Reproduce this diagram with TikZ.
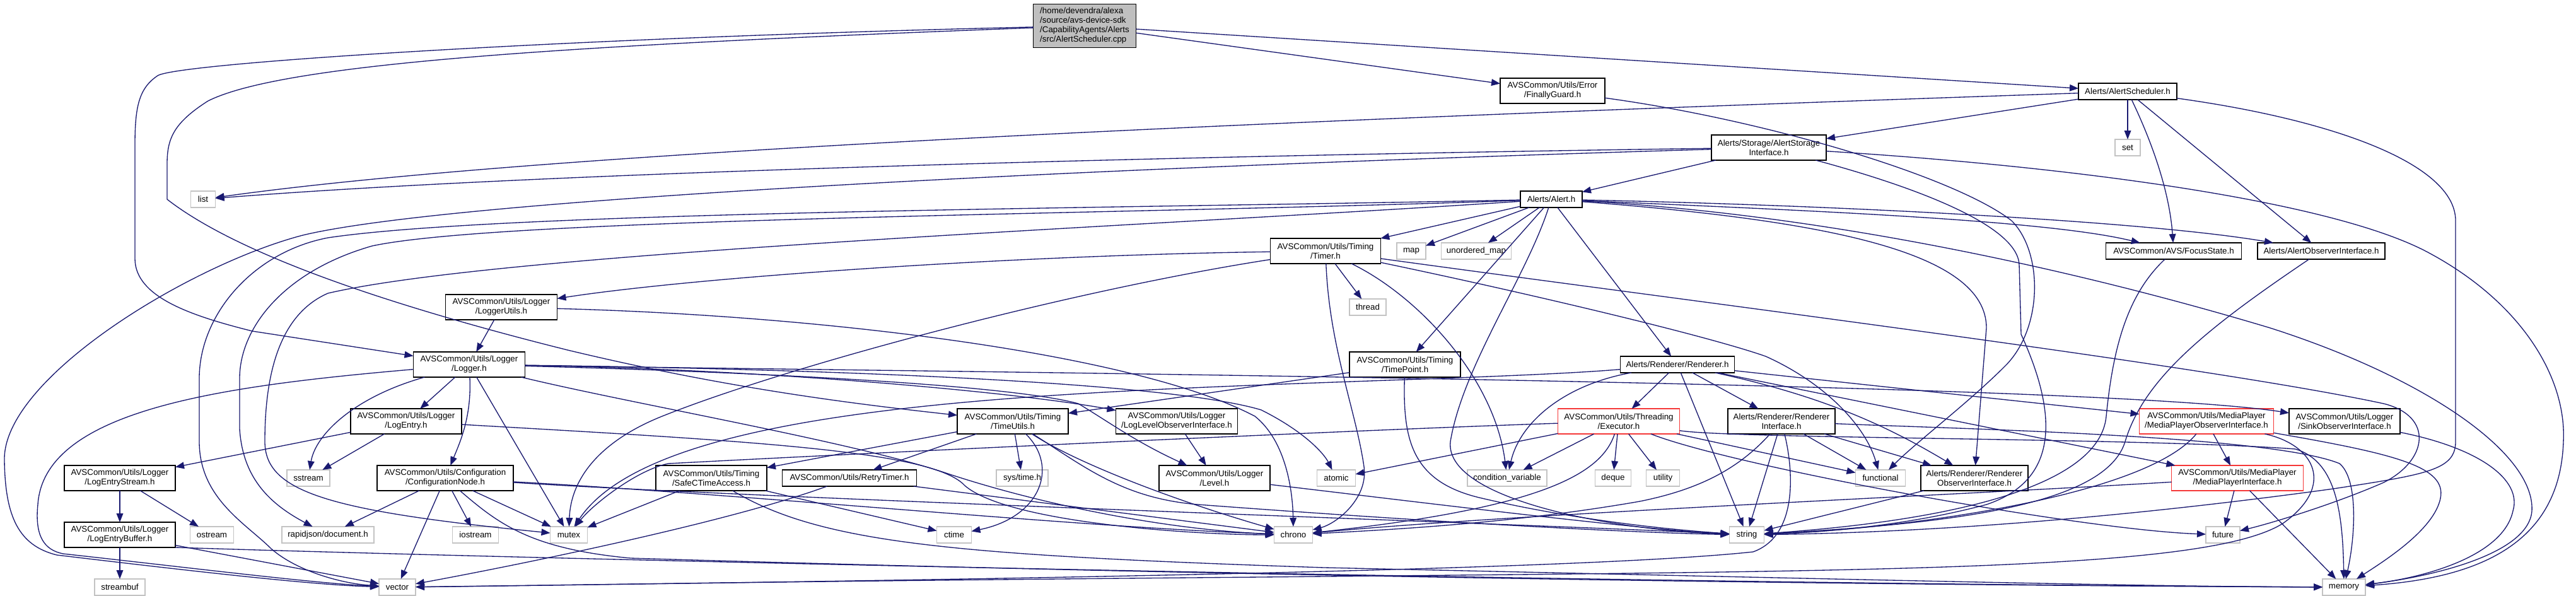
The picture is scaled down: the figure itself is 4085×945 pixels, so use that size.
\documentclass[tikz,border=0pt]{standalone}
\usepackage{fontspec}
\setmainfont{Liberation Sans}
\usetikzlibrary{arrows.meta}
\definecolor{eblue}{RGB}{25,25,112}
\definecolor{lgray}{RGB}{195,195,195}
\definecolor{rgray}{RGB}{191,191,191}
\definecolor{redb}{RGB}{245,55,55}
\newcommand{\nodefont}{\fontsize{10}{11.25}\selectfont}
\tikzset{
  base/.style={inner sep=0pt, outer sep=0pt, fill=white, line width=1pt, align=center, font=\nodefont},
  hdr/.style={base, draw=black},
  sysh/.style={base, draw=lgray},
  redh/.style={base, draw=redb},
  two/.style={minimum height=30pt},
  one/.style={minimum height=19.5pt},
  bw/.style={minimum width=#1},
  e/.style={draw=eblue, line width=1pt, -{Triangle[length=10.5pt,width=8pt]}},
}
\begin{document}
\begin{tikzpicture}[x=0.75pt,y=-0.75pt]
\useasboundingbox[fill=white] (0,0) rectangle (4085,945);
% ---------- nodes ----------
\node[hdr, fill=rgray, align=left, bw=122.25pt, minimum height=51.75pt] (cpp) at (1720,41) {/home/devendra/alexa\\/source/avs-device-sdk\\/CapabilityAgents/Alerts\\/src/AlertScheduler.cpp};
\node[hdr, one, bw=117pt] (asch) at (3374,145) {Alerts/AlertScheduler.h};
\node[hdr, two, bw=124.5pt] (fguard) at (2462,144) {AVSCommon/Utils/Error\\/FinallyGuard.h};
\node[hdr, two, bw=136.5pt] (astore) at (2805,234) {Alerts/Storage/AlertStorage\\Interface.h};
\node[sysh, one, bw=30pt] (set) at (3374,234) {set};
\node[sysh, one, bw=29.25pt] (list) at (322,316) {list};
\node[hdr, one, bw=73.5pt] (alert) at (2460,316) {Alerts/Alert.h};
\node[hdr, two, bw=131.25pt] (timer) at (2102,398) {AVSCommon/Utils/Timing\\/Timer.h};
\node[sysh, one, bw=34.5pt] (map) at (2238,398) {map};
\node[sysh, one, bw=83.25pt] (umap) at (2341,398) {unordered\_map};
\node[hdr, one, bw=161.25pt] (focus) at (3447,398) {AVSCommon/AVS/FocusState.h};
\node[hdr, one, bw=151.5pt] (aobs) at (3681,398) {Alerts/AlertObserverInterface.h};
\node[hdr, two, bw=132.75pt] (lutils) at (795,487) {AVSCommon/Utils/Logger\\/LoggerUtils.h};
\node[sysh, one, bw=43.5pt] (thread) at (2169,487) {thread};
\node[hdr, two, bw=132.75pt] (logger) at (744,578) {AVSCommon/Utils/Logger\\/Logger.h};
\node[hdr, two, bw=132pt] (tpoint) at (2228,578) {AVSCommon/Utils/Timing\\/TimePoint.h};
\node[hdr, one, bw=135.75pt] (renderer) at (2660,578) {Alerts/Renderer/Renderer.h};
\node[hdr, two, bw=132pt] (logentry) at (644,668) {AVSCommon/Utils/Logger\\/LogEntry.h};
\node[hdr, two, bw=132pt] (tutils) at (1606,668) {AVSCommon/Utils/Timing\\/TimeUtils.h};
\node[hdr, two, bw=144.75pt] (lloi) at (1866,668) {AVSCommon/Utils/Logger\\/LogLevelObserverInterface.h};
\node[redh, two, bw=144.75pt] (executor) at (2567,668) {AVSCommon/Utils/Threading\\/Executor.h};
\node[hdr, two, bw=127.5pt] (rendiface) at (2825,668) {Alerts/Renderer/Renderer\\Interface.h};
\node[redh, two, bw=159.75pt] (mpobs) at (3499,668) {AVSCommon/Utils/MediaPlayer\\/MediaPlayerObserverInterface.h};
\node[hdr, two, bw=132pt] (sinkobs) at (3718,668) {AVSCommon/Utils/Logger\\/SinkObserverInterface.h};
\node[hdr, two, bw=132pt] (lestream) at (190,758) {AVSCommon/Utils/Logger\\/LogEntryStream.h};
\node[sysh, one, bw=51pt] (sstream) at (489,758) {sstream};
\node[hdr, two, bw=162pt] (confignode) at (706,758) {AVSCommon/Utils/Configuration\\/ConfigurationNode.h};
\node[hdr, two, bw=132pt] (safect) at (1128,758) {AVSCommon/Utils/Timing\\/SafeCTimeAccess.h};
\node[hdr, one, bw=159.75pt] (retry) at (1347,758) {AVSCommon/Utils/RetryTimer.h};
\node[sysh, one, bw=61.5pt] (systime) at (1621,758) {sys/time.h};
\node[hdr, two, bw=132pt] (level) at (1926,758) {AVSCommon/Utils/Logger\\/Level.h};
\node[sysh, one, bw=45.75pt] (atomic) at (2119,758) {atomic};
\node[sysh, one, bw=94.5pt] (condvar) at (2390,758) {condition\_variable};
\node[sysh, one, bw=42.75pt] (deque) at (2558,758) {deque};
\node[sysh, one, bw=39.75pt] (utility) at (2637,758) {utility};
\node[sysh, one, bw=59.25pt] (functional) at (2982,758) {functional};
\node[hdr, two, bw=127.5pt] (rendobs) at (3131,758) {Alerts/Renderer/Renderer\\ObserverInterface.h};
\node[redh, two, bw=156.75pt] (mpiface) at (3548,758) {AVSCommon/Utils/MediaPlayer\\/MediaPlayerInterface.h};
\node[hdr, two, bw=132pt] (lebuffer) at (190,848) {AVSCommon/Utils/Logger\\/LogEntryBuffer.h};
\node[sysh, one, bw=51.75pt] (ostream) at (336,848) {ostream};
\node[sysh, one, bw=109.5pt] (rapidjson) at (520,848) {rapidjson/document.h};
\node[sysh, one, bw=54.75pt] (iostream) at (754,848) {iostream};
\node[sysh, one, bw=44.25pt] (mutex) at (902,848) {mutex};
\node[sysh, one, bw=41.25pt] (ctime) at (1513,848) {ctime};
\node[sysh, one, bw=45.75pt] (chrono) at (2051,848) {chrono};
\node[sysh, one, bw=41.25pt] (string) at (2770,848) {string};
\node[sysh, one, bw=40.5pt] (future) at (3525,848) {future};
\node[sysh, one, bw=60pt] (streambuf) at (190,931) {streambuf};
\node[sysh, one, bw=43.5pt] (vector) at (630,931) {vector};
\node[sysh, one, bw=51pt] (memory) at (3717,931) {memory};
% ---------- edges ----------
% root
\draw[e] (cpp) -- (asch);
\draw[e] (cpp) -- (fguard);
\draw[e] (cpp) .. controls (900,60) and (280,100) .. (250,120) .. controls (220,140) and (214,170) .. (214,230) -- (214,410) .. controls (214,470) and (300,500) .. (400,525) -- (logger);
\draw[e] (cpp) .. controls (900,72) and (450,100) .. (330,160) .. controls (275,195) and (265,220) .. (265,260) -- (265,316) .. controls (360,390) and (560,470) .. (900,555) .. controls (1150,615) and (1350,640) .. (tutils);
% AlertScheduler
\draw[e] (asch) .. controls (2200,185) and (900,235) .. (list);
\draw[e] (asch) -- (astore);
\draw[e] (asch) -- (set);
\draw[e] (asch) .. controls (3410,220) and (3440,300) .. (focus);
\draw[e] (asch) -- (aobs);
\draw[e] (asch) .. controls (3700,190) and (3894,260) .. (3894,350) -- (3894,700) .. controls (3894,745) and (3850,752) .. (3700,775) .. controls (3300,830) and (3000,845) .. (string);
% FinallyGuard
\draw[e] (fguard) .. controls (2800,190) and (3100,280) .. (3190,350) .. controls (3240,400) and (3240,520) .. (3180,580) .. controls (3120,640) and (3040,700) .. (functional);
% AlertStorage
\draw[e] (astore) .. controls (2000,245) and (900,270) .. (list);
\draw[e] (astore) .. controls (1600,270) and (700,320) .. (480,373) .. controls (300,420) and (5,600) .. (7,729) .. controls (8,820) and (30,865) .. (90,880) .. controls (300,905) and (500,928) .. (vector);
\draw[e] (astore) -- (alert);
\draw[e] (astore) .. controls (3300,265) and (3700,320) .. (3850,400) .. controls (4000,480) and (4070,600) .. (4065,700) .. controls (4060,850) and (3950,915) .. (memory);
\draw[e] (astore) .. controls (3050,300) and (3200,360) .. (3202,420) -- (3205,530) .. controls (3260,650) and (3270,760) .. (3150,800) .. controls (3000,840) and (2850,845) .. (string);
% Alert
\draw[e] (alert) -- (timer);
\draw[e] (alert) -- (map);
\draw[e] (alert) -- (umap);
\draw[e] (alert) -- (tpoint);
\draw[e] (alert) .. controls (2420,440) and (2320,580) .. (2300,700) .. controls (2290,790) and (2550,840) .. (string);
\draw[e] (alert) -- (renderer);
\draw[e] (alert) .. controls (2900,335) and (3250,350) .. (focus);
\draw[e] (alert) .. controls (2900,325) and (3400,350) .. (aobs);
\draw[e] (alert) .. controls (2900,340) and (3300,430) .. (3600,520) .. controls (3850,600) and (4020,720) .. (4015,810) .. controls (4010,880) and (3850,915) .. (memory);
\draw[e] (alert) .. controls (2900,350) and (3150,400) .. (3150,520) -- (rendobs);
\draw[e] (alert) .. controls (1800,330) and (800,335) .. (520,377) .. controls (400,400) and (316,500) .. (316,600) -- (316,700) .. controls (316,790) and (390,830) .. (430,870) .. controls (470,905) and (540,925) .. (vector);
\draw[e] (alert) .. controls (1800,340) and (800,345) .. (590,390) .. controls (450,430) and (380,520) .. (380,600) -- (380,680) .. controls (385,760) and (430,800) .. (rapidjson);
\draw[e] (alert) .. controls (1800,360) and (800,400) .. (520,465) .. controls (440,500) and (420,600) .. (420,700) .. controls (420,780) and (520,810) .. (mutex);
% Timer
\draw[e] (timer) .. controls (1600,405) and (1100,440) .. (lutils);
\draw[e] (timer) .. controls (1700,460) and (1250,580) .. (1050,660) .. controls (950,700) and (905,760) .. (mutex);
\draw[e] (timer) -- (thread);
\draw[e] (timer) .. controls (2250,470) and (2370,600) .. (condvar);
\draw[e] (timer) .. controls (2400,460) and (2700,530) .. (2800,565) .. controls (2900,610) and (2960,680) .. (functional);
\draw[e] (timer) .. controls (2700,480) and (3500,580) .. (3780,640) .. controls (3860,660) and (3850,730) .. (3780,765) .. controls (3700,800) and (3600,830) .. (future);
\draw[e] (timer) .. controls (2108,550) and (2150,650) .. (2163,740) .. controls (2170,790) and (2120,830) .. (chrono);
% TimePoint
\draw[e] (tpoint) -- (tutils);
\draw[e] (tpoint) .. controls (2224,700) and (2240,765) .. (2350,790) .. controls (2500,825) and (2650,840) .. (string);
% Renderer
\draw[e] (renderer) -- (executor);
\draw[e] (renderer) -- (rendiface);
\draw[e] (renderer) -- (string);
\draw[e] (renderer) .. controls (2480,610) and (2410,670) .. (condvar);
\draw[e] (renderer) -- (mpobs);
\draw[e] (renderer) -- (mpiface);
\draw[e] (renderer) .. controls (2900,630) and (3000,680) .. (rendobs);
\draw[e] (renderer) .. controls (2400,600) and (2000,606) .. (1700,625) .. controls (1300,650) and (1000,700) .. (mutex);
% Executor
\draw[e] (executor) -- (atomic);
\draw[e] (executor) -- (condvar);
\draw[e] (executor) -- (deque);
\draw[e] (executor) -- (utility);
\draw[e] (executor) -- (functional);
\draw[e] (executor) .. controls (2540,750) and (2450,805) .. (chrono);
\draw[e] (executor) .. controls (2750,740) and (3300,840) .. (future);
\draw[e] (executor) .. controls (2750,696) and (3400,694) .. (3640,712) .. controls (3700,730) and (3715,800) .. (memory);
\draw[e] (executor) .. controls (2200,680) and (1500,712) .. (1060,735) .. controls (1010,745) and (940,800) .. (mutex);
% Renderer interface
\draw[e] (rendiface) -- (functional);
\draw[e] (rendiface) -- (string);
\draw[e] (rendiface) -- (rendobs);
\draw[e] (rendiface) .. controls (2760,740) and (2700,775) .. (2600,795) .. controls (2400,830) and (2200,840) .. (chrono);
\draw[e] (rendiface) .. controls (2845,750) and (2850,850) .. (2780,875) .. controls (2500,905) and (1500,920) .. (vector);
\draw[e] (rendiface) .. controls (3100,680) and (3600,690) .. (3710,735) .. controls (3740,760) and (3735,850) .. (memory);
\draw[e] (rendobs) -- (string);
% MediaPlayer
\draw[e] (mpobs) -- (mpiface);
\draw[e] (mpobs) .. controls (3400,790) and (3000,840) .. (string);
\draw[e] (mpobs) .. controls (3800,720) and (3880,740) .. (3870,790) .. controls (3860,840) and (3780,890) .. (memory);
\draw[e] (mpobs) .. controls (3670,705) and (3705,770) .. (3620,830) .. controls (3500,905) and (3000,905) .. (2000,915) .. controls (1200,922) and (900,928) .. (vector);
\draw[e] (mpiface) -- (future);
\draw[e] (mpiface) -- (memory);
\draw[e] (mpiface) .. controls (3100,785) and (2400,815) .. (chrono);
\draw[e] (sinkobs) .. controls (3930,710) and (4000,760) .. (3985,810) .. controls (3970,880) and (3850,915) .. (memory);
% FocusState / AlertObserver
\draw[e] (focus) .. controls (3370,470) and (3350,560) .. (3340,660) .. controls (3330,770) and (3100,825) .. (string);
\draw[e] (aobs) .. controls (3500,520) and (3400,600) .. (3370,700) .. controls (3340,800) and (3100,830) .. (string);
% Logger
\draw[e] (lutils) -- (logger);
\draw[e] (lutils) .. controls (1300,500) and (1800,560) .. (1990,660) .. controls (2040,700) and (2050,780) .. (chrono);
\draw[e] (logger) -- (logentry);
\draw[e] (logger) .. controls (560,630) and (500,690) .. (sstream);
\draw[e] (logger) .. controls (748,660) and (730,700) .. (confignode);
\draw[e] (logger) -- (mutex);
\draw[e] (logger) .. controls (350,612) and (70,650) .. (60,800) .. controls (55,850) and (70,872) .. (100,878) .. controls (300,900) and (500,925) .. (vector);
\draw[e] (logger) .. controls (1200,585) and (1600,620) .. (lloi);
\draw[e] (logger) .. controls (1200,590) and (1600,610) .. (1710,640) .. controls (1760,670) and (1800,700) .. (level);
\draw[e] (logger) .. controls (1300,585) and (1850,605) .. (2000,650) .. controls (2070,685) and (2100,720) .. (atomic);
\draw[e] (logger) .. controls (1500,590) and (3300,605) .. (sinkobs);
\draw[e] (logger) .. controls (1000,640) and (1350,700) .. (1500,750) .. controls (1650,800) and (1850,840) .. (chrono);
% LogEntry
\draw[e] (logentry) -- (lestream);
\draw[e] (logentry) -- (sstream);
\draw[e] (logentry) .. controls (1200,700) and (1480,715) .. (1530,770) .. controls (1600,830) and (1900,848) .. (chrono);
\draw[e] (lestream) -- (lebuffer);
\draw[e] (lestream) -- (ostream);
\draw[e] (lebuffer) -- (streambuf);
\draw[e] (lebuffer) -- (vector);
\draw[e] (lebuffer.south east) .. controls (800,885) and (2500,925) .. (memory);
% ConfigurationNode
\draw[e] (confignode) -- (rapidjson);
\draw[e] (confignode) -- (vector);
\draw[e] (confignode) -- (iostream);
\draw[e] (confignode) -- (mutex);
\draw[e] (confignode) .. controls (1200,790) and (2400,830) .. (string);
\draw[e] (confignode) .. controls (1200,785) and (1700,835) .. (chrono);
\draw[e] (confignode) .. controls (790,830) and (840,870) .. (1000,885) .. controls (2000,915) and (3000,928) .. (memory);
% SafeCTimeAccess / RetryTimer
\draw[e] (safect) -- (mutex);
\draw[e] (safect) -- (ctime);
\draw[e] (safect) .. controls (1300,860) and (1500,880) .. (2100,900) .. controls (3000,920) and (3400,930) .. (memory);
\draw[e] (retry) .. controls (1150,830) and (800,900) .. (vector);
\draw[e] (retry) -- (chrono);
% TimeUtils
\draw[e] (tutils) -- (safect);
\draw[e] (tutils) -- (retry);
\draw[e] (tutils) -- (systime);
\draw[e] (tutils) .. controls (1680,740) and (1650,820) .. (ctime);
\draw[e] (tutils) .. controls (1700,730) and (1850,790) .. (chrono);
\draw[e] (tutils) .. controls (1720,740) and (1780,790) .. (1900,800) .. controls (2300,830) and (2600,845) .. (string);
% Level
\draw[e] (lloi) -- (level);
\draw[e] (level) .. controls (2200,790) and (2600,840) .. (string);
\end{tikzpicture}
\end{document}
